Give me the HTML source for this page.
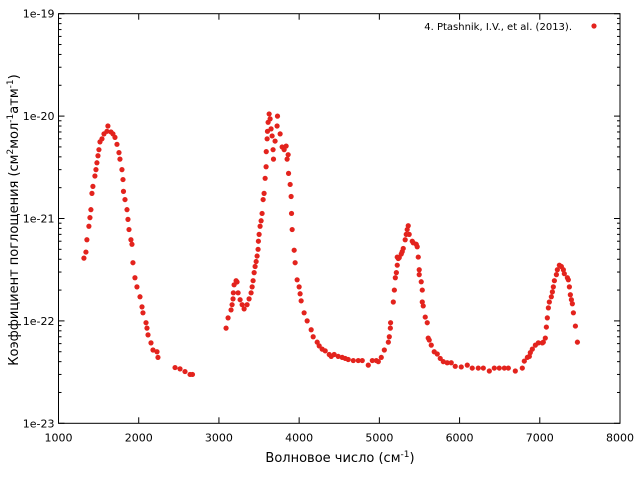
<!DOCTYPE html>
<html><head><meta charset="utf-8"><style>
body{margin:0;background:#fff;width:640px;height:480px;overflow:hidden}
svg{display:block;font-family:"DejaVu Sans","Liberation Sans",sans-serif}
</style></head><body>
<svg id="chart" width="640" height="480"></svg>
<script>
const wavenumbers1 = [1317,1342,1354,1379,1392,1404,1417,1429,1454,1467,1479,1492,1504,1517,1542,1567,1604,1616,1654,1679,1704,1729,1754,1766,1791,1804,1810,1829,1854,1866,1879,1903,1916,1928,1953,1978,2016,2041,2053,2091,2103,2116,2153,2178,2228,2240,2453,2515,2577,2640,2670];
const values1 = [4.1e-22,4.7e-22,6.2e-22,8.4e-22,1.02e-21,1.22e-21,1.76e-21,2.06e-21,2.6e-21,3.0e-21,3.5e-21,4.1e-21,4.7e-21,5.6e-21,6.0e-21,6.7e-21,7.1e-21,8.0e-21,7.0e-21,6.7e-21,6.2e-21,5.3e-21,4.4e-21,3.8e-21,3.0e-21,2.4e-21,1.84e-21,1.53e-21,1.22e-21,9.8e-22,7.8e-22,6.2e-22,5.6e-22,3.7e-22,2.64e-22,2.15e-22,1.72e-22,1.37e-22,1.2e-22,9.6e-23,8.5e-23,7.3e-23,6.1e-23,5.2e-23,5.0e-23,4.4e-23,3.5e-23,3.4e-23,3.2e-23,3.0e-23,3.0e-23];
const wavenumbers2 = [3089,3114,3151,3164,3176,3180,3189,3214,3226,3239,3264,3289,3314,3351,3376,3401,3414,3426,3439,3451,3464,3476,3488,3492,3501,3513,3526,3538,3551,3563,3576,3588,3590,3601,3605,3613,3626,3638,3650,3663,3675,3680,3700,3725,3730,3763,3788,3813,3838,3850,3863,3868,3888,3900,3905,3913,3938,3950,3975,4000,4012,4025,4062,4100,4150,4175,4225,4250,4287,4325,4375,4400,4437,4487,4537,4575,4612,4675,4737,4787,4862,4912,4962,4987,5024,5062,5112,5124,5137,5140,5174,5187,5199,5212,5223,5236];
const values2 = [8.5e-23,1.07e-22,1.28e-22,1.44e-22,1.64e-22,1.88e-22,2.25e-22,2.47e-22,2.4e-22,1.88e-22,1.61e-22,1.44e-22,1.31e-22,1.44e-22,1.64e-22,1.88e-22,2.15e-22,2.47e-22,2.96e-22,3.4e-22,3.8e-22,4.3e-22,5.0e-22,6.0e-22,7.0e-22,8.4e-22,9.5e-22,1.12e-21,1.53e-21,1.76e-21,2.47e-21,3.2e-21,4.5e-21,6.0e-21,7.1e-21,8.7e-21,1.05e-20,9.4e-21,7.5e-21,6.4e-21,4.7e-21,3.8e-21,5.7e-21,8.0e-21,1.0e-20,6.7e-21,5.0e-21,4.7e-21,5.1e-21,3.8e-21,4.2e-21,2.76e-21,2.15e-21,1.64e-21,1.12e-21,7.8e-22,4.9e-22,3.7e-22,2.52e-22,2.15e-22,1.84e-22,1.57e-22,1.2e-22,1.0e-22,8.2e-23,7.0e-23,6.2e-23,5.7e-23,5.3e-23,5.1e-23,4.7e-23,4.5e-23,4.7e-23,4.5e-23,4.4e-23,4.3e-23,4.2e-23,4.1e-23,4.1e-23,4.1e-23,3.7e-23,4.1e-23,4.1e-23,4.0e-23,4.4e-23,5.2e-23,6.2e-23,7.0e-23,8.5e-23,9.6e-23,1.53e-22,2.0e-22,2.64e-22,2.96e-22,3.5e-22,4.06e-22];
const wavenumbers3 = [5223,5248,5273,5285,5298,5322,5335,5347,5360,5372,5410,5422,5460,5472,5485,5497,5497,5522,5535,5535,5547,5572,5597,5609,5622,5647,5684,5722,5759,5797,5846,5896,5946,6021,6096,6158,6233,6296,6371,6433,6495,6558,6608,6695,6782,6807,6845,6870,6882,6907,6945,6982,7032,7044,7069,7082,7094,7107,7119,7144,7157,7169,7182,7207,7219,7244,7269,7294,7306,7344,7356,7369,7381,7394,7406,7419,7444,7469];
const values3 = [4.2e-22,4.15e-22,4.5e-22,4.75e-22,5.1e-22,6.2e-22,7.0e-22,7.8e-22,8.5e-22,7.0e-22,6.0e-22,5.8e-22,5.6e-22,5.3e-22,4.2e-22,3.16e-22,2.83e-22,2.41e-22,2.0e-22,1.53e-22,1.4e-22,1.09e-22,9.6e-23,6.8e-23,6.5e-23,5.8e-23,5.0e-23,4.75e-23,4.3e-23,4.0e-23,3.9e-23,3.9e-23,3.6e-23,3.55e-23,3.7e-23,3.46e-23,3.46e-23,3.46e-23,3.24e-23,3.46e-23,3.46e-23,3.46e-23,3.46e-23,3.24e-23,3.46e-23,4.05e-23,4.4e-23,4.5e-23,4.9e-23,5.3e-23,5.8e-23,6.1e-23,6.1e-23,6.2e-23,6.8e-23,8.7e-23,1.07e-22,1.34e-22,1.53e-22,1.72e-22,1.92e-22,2.15e-22,2.47e-22,2.83e-22,3.16e-22,3.5e-22,3.4e-22,3.16e-22,2.89e-22,2.64e-22,2.52e-22,2.15e-22,1.8e-22,1.61e-22,1.47e-22,1.2e-22,8.9e-23,6.2e-23,4.5e-23,3.6e-23];
const xTicks = [1000,2000,3000,4000,5000,6000,7000,8000];
const yTicks = ["1e-23","1e-22","1e-21","1e-20","1e-19"];

const NS="http://www.w3.org/2000/svg";
const svg=document.getElementById('chart');
const L=58.5,R=620,T=13.7,B=423.3;
function xs(v){return L+(v-1000)/7000*(R-L);}
function ys(v){return B-(Math.log10(v)+23)/4*(B-T);}
function mk(tag,attrs,parent){const e=document.createElementNS(NS,tag);for(const k in attrs)e.setAttribute(k,attrs[k]);(parent||svg).appendChild(e);return e;}

const axes=mk('g',{});


const frame=mk('rect',{x:L,y:T,width:R-L,height:B-T,fill:'none',stroke:'#000','stroke-width':1},axes);



xTicks.forEach(t=>{
  const x=xs(t);
  mk('line',{x1:x,x2:x,y1:B,y2:B-6,stroke:'#000'},axes);
  mk('line',{x1:x,x2:x,y1:T,y2:T+6,stroke:'#000'},axes);
  const tx=mk('text',{x:x,y:B+18,'text-anchor':'middle','font-size':11,fill:'#000'},axes);
  tx.textContent=t;
  
  
});
yTicks.forEach((lab,i)=>{
  const v=Math.pow(10,-23+i);
  const y=ys(v);
  mk('line',{x1:L,x2:L+6,y1:y,y2:y,stroke:'#000'},axes);
  mk('line',{x1:R,x2:R-6,y1:y,y2:y,stroke:'#000'},axes);
  const tx=mk('text',{x:L-4,y:y+4,'text-anchor':'end','font-size':11,fill:'#000'},axes);
  tx.textContent=lab;
  
  
  if(i<yTicks.length-1){
    for(let m=2;m<=9;m++){
      const ym=ys(v*m);
      mk('line',{x1:L,x2:L+3,y1:ym,y2:ym,stroke:'#000'},axes);
      mk('line',{x1:R,x2:R-3,y1:ym,y2:ym,stroke:'#000'},axes);
    }
  }
});

const series=mk('g',{fill:'#e3231d'});


[[wavenumbers1,values1],[wavenumbers2,values2],[wavenumbers3,values3]].forEach(([w,v])=>{
  w.forEach((x,i)=>{
    const c=mk('circle',{cx:xs(x),cy:ys(v[i]),r:2.6},series);
    
    
  });
});
</script>
<svg width="640" height="480" style="position:absolute;left:0;top:0">
  <text x="572" y="30" text-anchor="end" font-size="10" fill="#000">4. Ptashnik, I.V., et al. (2013).</text>
  <circle cx="594" cy="26" r="2.6" fill="#e3231d"/>
  <text x="340" y="462" text-anchor="middle" font-size="13" fill="#000">Волновое число (см<tspan font-size="9" dy="-5">-1</tspan><tspan dy="5">)</tspan></text>
  <text transform="translate(18,220) rotate(-90)" text-anchor="middle" font-size="13" fill="#000">Коэффициент поглощения (см<tspan font-size="9" dy="-5">2</tspan><tspan dy="5">мол</tspan><tspan font-size="9" dy="-5">-1</tspan><tspan dy="5">атм</tspan><tspan font-size="9" dy="-5">-1</tspan><tspan dy="5">)</tspan></text>
</svg>
</body></html>
